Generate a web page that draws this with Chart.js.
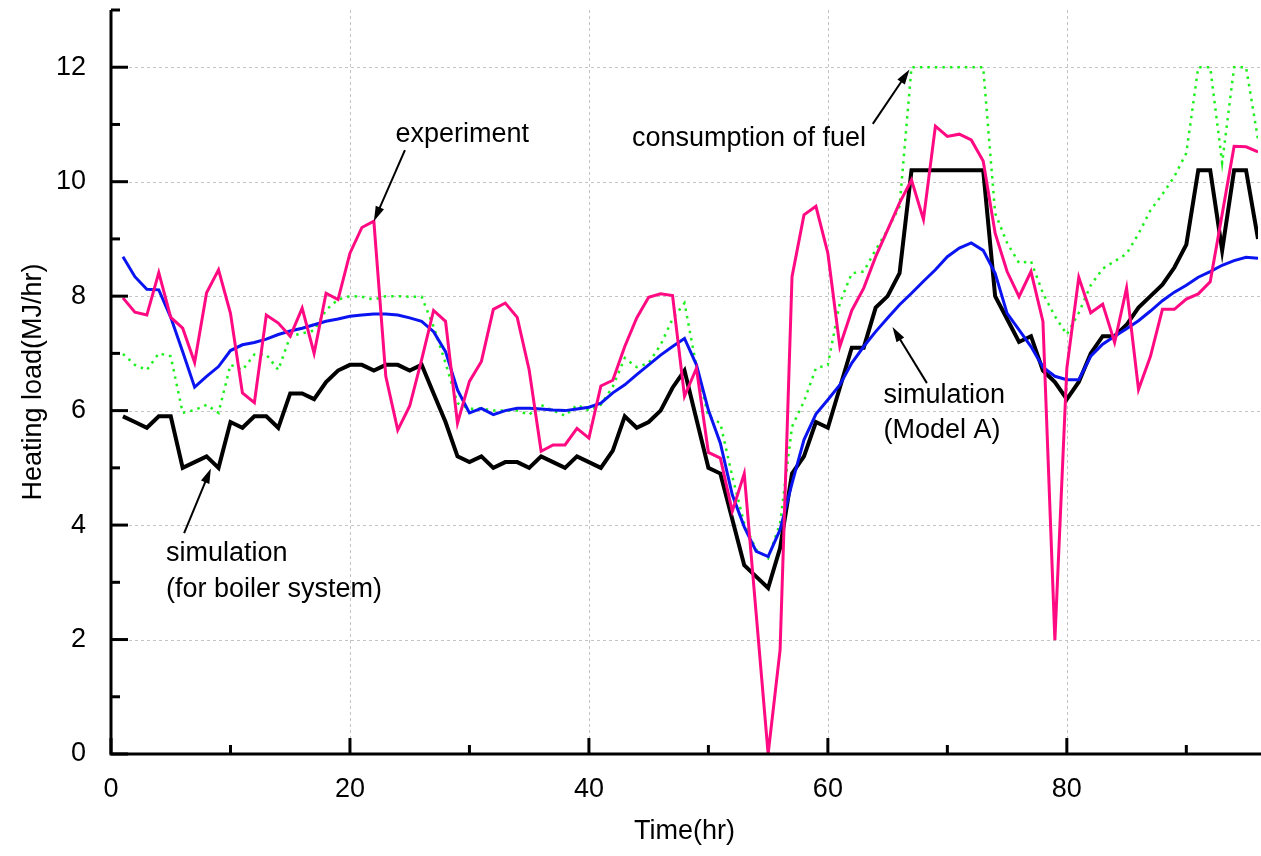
<!DOCTYPE html>
<html>
<head>
<meta charset="utf-8">
<title>Heating load</title>
<script src="https://cdn.jsdelivr.net/npm/chart.js@4/dist/chart.umd.min.js"></script>
<style>
  html, body { margin: 0; padding: 0; background: #fff; }
  #wrap { width: 1261px; height: 856px; }
</style>
</head>
<body>
<div id="wrap"><canvas id="chart" width="1261" height="856"></canvas></div>
<script>
// time axis (hr)
const hours = [
  1, 2, 3, 4, 5, 6, 7, 8, 9, 10, 11, 12, 13, 14, 15, 16, 17, 18, 19, 20,
  21, 22, 23, 24, 25, 26, 27, 28, 29, 30, 31, 32, 33, 34, 35, 36, 37, 38, 39, 40,
  41, 42, 43, 44, 45, 46, 47, 48, 49, 50, 51, 52, 53, 54, 55, 56, 57, 58, 59, 60,
  61, 62, 63, 64, 65, 66, 67, 68, 69, 70, 71, 72, 73, 74, 75, 76, 77, 78, 79, 80,
  81, 82, 83, 84, 85, 86, 87, 88, 89, 90, 91, 92, 93, 94, 95, 96
];

const experiment = [
  7.97, 7.72, 7.67, 8.41, 7.63, 7.44, 6.84, 8.06, 8.46, 7.70, 6.31, 6.14, 7.67, 7.53, 7.30, 7.79, 7.00, 8.05, 7.94, 8.75,
  9.20, 9.31, 6.60, 5.66, 6.08, 6.89, 7.75, 7.56, 5.78, 6.51, 6.86, 7.77, 7.88, 7.63, 6.71, 5.29, 5.40, 5.40, 5.69, 5.52,
  6.43, 6.53, 7.12, 7.62, 7.98, 8.04, 8.01, 6.25, 6.74, 5.27, 5.17, 4.24, 4.90, 2.45, 0.00, 1.82, 8.34, 9.42, 9.57, 8.75,
  7.12, 7.75, 8.14, 8.69, 9.16, 9.63, 10.03, 9.34, 10.97, 10.79, 10.83, 10.73, 10.36, 9.10, 8.43, 7.99, 8.43, 7.56, 1.99, 6.74,
  8.33, 7.71, 7.86, 7.19, 8.14, 6.37, 6.95, 7.77, 7.77, 7.95, 8.04, 8.25, 9.43, 10.62, 10.61, 10.52
];

const simBoiler = [
  5.9, 5.8, 5.7, 5.9, 5.9, 5.0, 5.1, 5.2, 5.0, 5.8, 5.7, 5.9, 5.9, 5.7, 6.3, 6.3, 6.2, 6.5, 6.7, 6.8,
  6.8, 6.7, 6.8, 6.8, 6.7, 6.8, 6.3, 5.8, 5.2, 5.1, 5.2, 5.0, 5.1, 5.1, 5.0, 5.2, 5.1, 5.0, 5.2, 5.1,
  5.0, 5.3, 5.9, 5.7, 5.8, 6.0, 6.4, 6.7, 5.85, 5.0, 4.9, 4.1, 3.3, 3.1, 2.9, 3.6, 4.9, 5.2, 5.8, 5.7,
  6.4, 7.1, 7.1, 7.8, 8.0, 8.4, 10.2, 10.2, 10.2, 10.2, 10.2, 10.2, 10.2, 8.0, 7.6, 7.2, 7.3, 6.7, 6.5, 6.2,
  6.5, 7.0, 7.3, 7.3, 7.5, 7.8, 8.0, 8.2, 8.5, 8.9, 10.2, 10.2, 8.8, 10.2, 10.2, 9.0
];

const simModelA = [
  8.69, 8.34, 8.12, 8.11, 7.63, 7.03, 6.41, 6.60, 6.77, 7.05, 7.15, 7.19, 7.25, 7.33, 7.39, 7.44, 7.50, 7.56, 7.60, 7.65,
  7.67, 7.69, 7.69, 7.67, 7.62, 7.56, 7.38, 7.03, 6.36, 5.96, 6.04, 5.93, 6.00, 6.04, 6.04, 6.03, 6.01, 6.00, 6.03, 6.06,
  6.13, 6.31, 6.45, 6.63, 6.80, 6.97, 7.12, 7.26, 6.80, 6.01, 5.43, 4.53, 3.97, 3.54, 3.45, 3.92, 4.73, 5.49, 5.94, 6.19,
  6.45, 6.83, 7.12, 7.38, 7.62, 7.85, 8.05, 8.26, 8.46, 8.69, 8.84, 8.93, 8.80, 8.40, 7.70, 7.41, 7.12, 6.76, 6.60, 6.54,
  6.54, 6.95, 7.16, 7.30, 7.43, 7.57, 7.74, 7.92, 8.07, 8.19, 8.33, 8.43, 8.54, 8.62, 8.68, 8.66
];

const fuel = [
  6.99, 6.80, 6.71, 7.00, 6.95, 5.96, 6.01, 6.10, 5.96, 6.80, 6.71, 6.98, 6.98, 6.71, 7.30, 7.35, 7.40, 7.76, 7.94, 8.00,
  7.99, 7.94, 8.00, 8.00, 7.99, 7.99, 7.47, 6.83, 6.13, 6.03, 6.04, 6.00, 6.00, 6.00, 5.93, 6.10, 6.00, 5.91, 6.10, 6.00,
  6.10, 6.42, 6.92, 6.76, 6.83, 7.15, 7.60, 7.88, 6.77, 5.90, 5.78, 4.85, 4.03, 3.57, 3.42, 4.03, 5.72, 6.16, 6.74, 6.80,
  7.88, 8.40, 8.43, 8.81, 9.16, 9.57, 12.0, 12.0, 12.0, 12.0, 12.0, 12.0, 12.0, 9.45, 8.93, 8.58, 8.61, 8.05, 7.65, 7.33,
  7.71, 8.19, 8.48, 8.61, 8.74, 9.09, 9.50, 9.78, 10.09, 10.50, 12.0, 12.0, 10.33, 12.0, 12.0, 10.74
];

const xTicks = [0, 20, 40, 60, 80];
const xMinor = [10, 30, 50, 70, 90];
const yTicks = [0, 2, 4, 6, 8, 10, 12];
const yMinor = [1, 3, 5, 7, 9, 11, 13];

// labels with arrows, in data units
const notes = [
  { lines: ["experiment"], x: 29.4, y: 10.69, align: "center", from: [24.6, 10.55], to: [22.0, 9.31] },
  { lines: ["consumption of fuel"], x: 53.4, y: 10.62, align: "center", from: [63.76, 11.01], to: [66.83, 11.96] },
  { lines: ["simulation", "(for boiler system)"], x: 4.6, y: 3.37, align: "left", from: [6.12, 3.86], to: [8.36, 4.99] },
  { lines: ["simulation", "(Model A)"], x: 64.65, y: 6.14, align: "left", from: [68.29, 6.48], to: [65.41, 7.46] }
];

const FONT = "'Liberation Sans', Arial, sans-serif";
const pts = (arr) => hours.map((h, i) => ({ x: h, y: arr[i] }));

function arrow(ctx, x1, y1, x2, y2) {
  const a = Math.atan2(y2 - y1, x2 - x1);
  const len = 15, w = 4.5;
  ctx.beginPath();
  ctx.moveTo(x1, y1);
  ctx.lineTo(x2 - Math.cos(a) * len * 0.7, y2 - Math.sin(a) * len * 0.7);
  ctx.stroke();
  ctx.beginPath();
  ctx.moveTo(x2, y2);
  ctx.lineTo(x2 - len * Math.cos(a) + w * Math.sin(a), y2 - len * Math.sin(a) - w * Math.cos(a));
  ctx.lineTo(x2 - len * Math.cos(a) - w * Math.sin(a), y2 - len * Math.sin(a) + w * Math.cos(a));
  ctx.closePath();
  ctx.fill();
}

const frame = {
  id: "frame",
  beforeDatasetsDraw(chart) {
    const { ctx, chartArea: a, scales: { x, y } } = chart;
    ctx.save();
    ctx.strokeStyle = "#c4c4c4";
    ctx.lineWidth = 1;
    ctx.setLineDash([3, 3]);
    xTicks.slice(1).forEach((v) => {
      const px = Math.round(x.getPixelForValue(v)) + 0.5;
      ctx.beginPath(); ctx.moveTo(px, a.top); ctx.lineTo(px, a.bottom); ctx.stroke();
    });
    yTicks.slice(1).forEach((v) => {
      const py = Math.round(y.getPixelForValue(v)) + 0.5;
      ctx.beginPath(); ctx.moveTo(a.left, py); ctx.lineTo(a.right + 3, py); ctx.stroke();
    });
    ctx.restore();
  },
  afterDatasetsDraw(chart) {
    const { ctx, chartArea: a, scales: { x, y } } = chart;
    ctx.save();
    ctx.strokeStyle = "#000";
    ctx.fillStyle = "#000";
    ctx.lineWidth = 3;
    ctx.lineCap = "butt";
    // axes
    ctx.beginPath();
    ctx.moveTo(a.left, a.top);
    ctx.lineTo(a.left, a.bottom);
    ctx.lineTo(chart.width, a.bottom);
    ctx.stroke();
    // ticks, pointing inward
    const tick = (px, len, horiz) => {
      ctx.beginPath();
      if (horiz) { ctx.moveTo(px, a.bottom); ctx.lineTo(px, a.bottom - len); }
      else { ctx.moveTo(a.left, px); ctx.lineTo(a.left + len, px); }
      ctx.stroke();
    };
    xTicks.forEach((v) => tick(x.getPixelForValue(v), 16, true));
    xMinor.forEach((v) => tick(x.getPixelForValue(v), 9, true));
    yTicks.forEach((v) => tick(y.getPixelForValue(v), 17, false));
    yMinor.forEach((v) => tick(y.getPixelForValue(v), 9, false));

    // annotations
    ctx.font = "27px " + FONT;
    ctx.textBaseline = "alphabetic";
    notes.forEach((n) => {
      ctx.textAlign = n.align;
      const tx = x.getPixelForValue(n.x);
      const ty = y.getPixelForValue(n.y);
      n.lines.forEach((s, i) => ctx.fillText(s, tx, ty + i * 35.5));
      ctx.lineWidth = 2;
      arrow(ctx, x.getPixelForValue(n.from[0]), y.getPixelForValue(n.from[1]),
        x.getPixelForValue(n.to[0]), y.getPixelForValue(n.to[1]));
    });
    ctx.restore();
  }
};

const noEdgePadding = (s) => {
  s.paddingTop = 0; s.paddingBottom = 0; s.paddingLeft = 0; s.paddingRight = 0;
};

new Chart(document.getElementById("chart"), {
  type: "line",
  data: {
    datasets: [
      { label: "experiment", data: pts(experiment), borderColor: "#ff0a82", borderWidth: 3, order: 1 },
      { label: "simulation (Model A)", data: pts(simModelA), borderColor: "#0a14f0", borderWidth: 3, order: 2 },
      { label: "simulation (for boiler system)", data: pts(simBoiler), borderColor: "#000000", borderWidth: 4, order: 3 },
      { label: "consumption of fuel", data: pts(fuel), borderColor: "#1ef01e", borderWidth: 2.5, borderDash: [2.5, 5], order: 4 }
    ]
  },
  options: {
    responsive: false,
    animation: false,
    devicePixelRatio: 1,
    layout: { padding: { top: 10, right: 3, left: 0, bottom: 0 } },
    elements: {
      point: { radius: 0 },
      line: { tension: 0, fill: false, borderJoinStyle: "miter" }
    },
    plugins: { legend: { display: false }, tooltip: { enabled: false } },
    scales: {
      x: {
        type: "linear",
        min: 0,
        max: 96,
        grid: { display: false },
        border: { display: false },
        afterBuildTicks: (s) => { s.ticks = xTicks.map((v) => ({ value: v })); },
        afterFit: (s) => { s.height = 102; noEdgePadding(s); },
        ticks: { color: "#000", font: { family: FONT, size: 27 }, padding: 11, maxRotation: 0, autoSkip: false },
        title: { display: true, text: "Time(hr)", color: "#000", font: { family: FONT, size: 27 }, padding: { top: 0, bottom: 8 } }
      },
      y: {
        type: "linear",
        min: 0,
        max: 13,
        grid: { display: false },
        border: { display: false },
        afterBuildTicks: (s) => { s.ticks = yTicks.map((v) => ({ value: v })); },
        afterFit: (s) => { s.width = 111; noEdgePadding(s); },
        ticks: { color: "#000", font: { family: FONT, size: 27 }, padding: 17 },
        title: { display: true, text: "Heating load(MJ/hr)", color: "#000", font: { family: FONT, size: 27 }, padding: { top: 17, bottom: 0 } }
      }
    }
  },
  plugins: [frame]
});
</script>
</body>
</html>
